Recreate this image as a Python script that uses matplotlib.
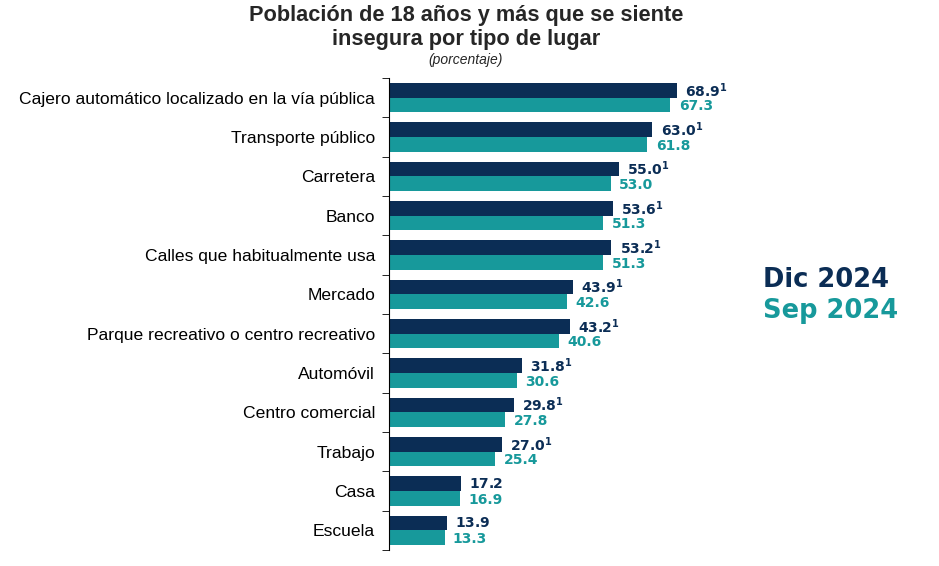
import numpy as np
import matplotlib
matplotlib.use("Agg")
import matplotlib.pyplot as plt

plt.rcParams['mathtext.fontset'] = 'dejavusans'

# data, top to bottom
categorias = ["Cajero automático localizado en la vía pública", "Transporte público",
              "Carretera", "Banco", "Calles que habitualmente usa", "Mercado",
              "Parque recreativo o centro recreativo", "Automóvil", "Centro comercial",
              "Trabajo", "Casa", "Escuela"]
dic_2024 = [68.9, 63.0, 55.0, 53.6, 53.2, 43.9, 43.2, 31.8, 29.8, 27.0, 17.2, 13.9]
sep_2024 = [67.3, 61.8, 53.0, 51.3, 51.3, 42.6, 40.6, 30.6, 27.8, 25.4, 16.9, 13.3]
nota = [True] * 10 + [False] * 2   # superscript 1 on Dic values

navy = "#0b2d55"
teal = "#17999b"

fig = plt.figure(figsize=(9.39, 5.66), dpi=100)
ax = fig.add_axes([389 / 939, 1 - 550 / 566, 550 / 939, 472 / 566])

n = len(categorias)
y = np.arange(n)
h = 0.37
ax.barh(y - h / 2, dic_2024, height=h, color=navy)
ax.barh(y + h / 2, sep_2024, height=h, color=teal)

for i in range(n):
    if nota[i]:
        s = r"$\mathbf{%.1f}^{\mathbf{1}}$" % dic_2024[i]
    else:
        s = r"$\mathbf{%.1f}$" % dic_2024[i]
    ax.annotate(s, (dic_2024[i], y[i] - h / 2), xytext=(6, 0), textcoords="offset points",
                va="center", ha="left", fontsize=10, color=navy)
    ax.annotate("%.1f" % sep_2024[i], (sep_2024[i], y[i] + h / 2), xytext=(6, -1),
                textcoords="offset points", va="center", ha="left", fontsize=10,
                color=teal, fontweight="bold")

ax.set_xlim(0, 550 / 4.18)
ax.set_ylim(n - 0.5, -0.5)
ax.set_yticks(y)
ax.set_yticklabels(categorias, family="Liberation Sans", fontsize=12.6)
ax.set_yticks(np.arange(-0.5, n, 1), minor=True)
ax.tick_params(axis="y", which="major", length=0, pad=10)
ax.tick_params(axis="y", which="minor", length=5, direction="out", color="black")
ax.set_xticks([])
for side in ["top", "right", "bottom"]:
    ax.spines[side].set_visible(False)
ax.spines["left"].set_color("black")

fig.text(466 / 939, 1 - 16 / 566, "Población de 18 años y más que se siente",
         ha="center", va="center", family="Liberation Sans", fontweight="bold",
         fontsize=15.7, color="#262626")
fig.text(466 / 939, 1 - 40 / 566, "insegura por tipo de lugar",
         ha="center", va="center", family="Liberation Sans", fontweight="bold",
         fontsize=15.7, color="#262626")
fig.text(466 / 939, 1 - 60 / 566, "(porcentaje)", ha="center", va="center",
         family="Liberation Sans", style="italic", fontsize=10, color="#262626")

fig.text(763 / 939, 1 - 280 / 566, "Dic 2024", ha="left", va="center", fontsize=18.5,
         fontweight="bold", color=navy)
fig.text(763 / 939, 1 - 311 / 566, "Sep 2024", ha="left", va="center", fontsize=18.5,
         fontweight="bold", color=teal)

fig.savefig("out.png", dpi=100)
